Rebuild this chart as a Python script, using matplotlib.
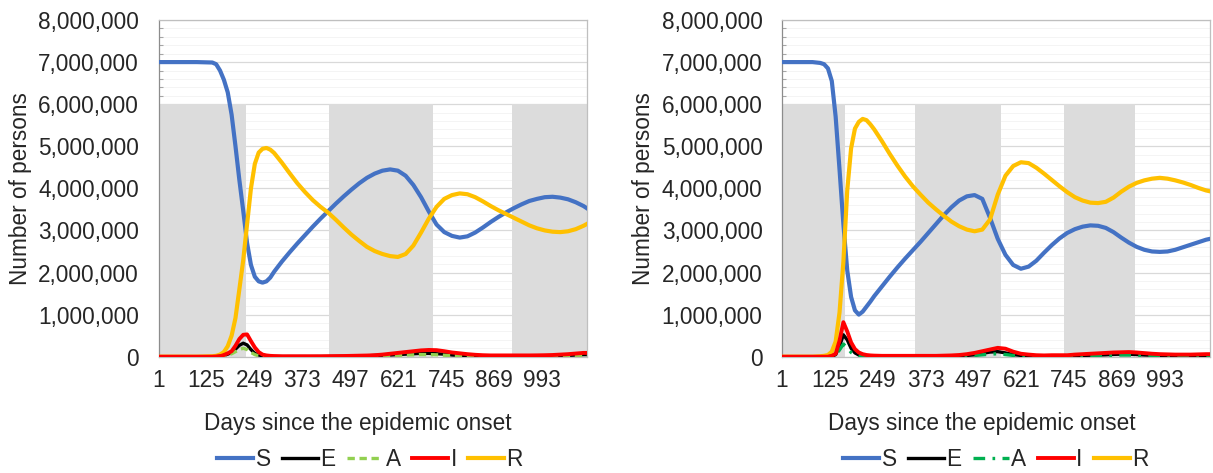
import matplotlib.pyplot as plt
import numpy as np
from matplotlib.ticker import FuncFormatter, MultipleLocator

plt.rcParams['font.family'] = ['Liberation Sans', 'DejaVu Sans']

# ---- scenario (a): days sampled, compartments in millions of persons ----
days_a = [1, 50, 100, 140, 150, 160, 170, 180, 190, 200, 210, 220, 230, 240,
          250, 260, 270, 280, 290, 300, 320, 340, 360, 380, 400, 420, 440,
          460, 480, 500, 520, 540, 560, 580, 600, 620, 640, 660, 680, 700,
          720, 740, 760, 780, 800, 820, 840, 860, 880, 900, 920, 940, 960,
          980, 1000, 1020, 1040, 1060, 1080, 1100, 1110]
S_a = [7.00, 7.00, 7.00, 6.99, 6.95, 6.80, 6.58, 6.28, 5.75, 5.00, 4.20, 3.47,
       2.70, 2.18, 1.90, 1.79, 1.76, 1.79, 1.88, 2.02, 2.26, 2.48, 2.69, 2.89,
       3.09, 3.28, 3.46, 3.64, 3.81, 3.97, 4.12, 4.25, 4.35, 4.42, 4.45, 4.42,
       4.30, 4.08, 3.79, 3.45, 3.14, 2.96, 2.87, 2.83, 2.86, 2.95, 3.07, 3.20,
       3.32, 3.43, 3.53, 3.62, 3.70, 3.75, 3.79, 3.80, 3.78, 3.74, 3.67, 3.58,
       3.52]
E_a = [0, 0, 0, 0, 0, 0.01, 0.03, 0.06, 0.10, 0.18, 0.27, 0.32, 0.28, 0.17,
       0.08, 0.04, 0.02, 0.01, 0.005, 0.004, 0.003, 0.003, 0.003, 0.003, 0.003,
       0.004, 0.005, 0.006, 0.008, 0.01, 0.015, 0.02, 0.03, 0.035, 0.04, 0.05,
       0.06, 0.07, 0.08, 0.08, 0.07, 0.06, 0.04, 0.03, 0.02, 0.015, 0.012, 0.01,
       0.01, 0.01, 0.012, 0.014, 0.016, 0.018, 0.02, 0.024, 0.028, 0.032, 0.04,
       0.05, 0.05]
A_a = [0, 0, 0, 0, 0, 0, 0.01, 0.04, 0.07, 0.12, 0.17, 0.20, 0.17, 0.10, 0.05,
       0.02, 0.01, 0.005, 0.003, 0.002, 0.002, 0.002, 0.002, 0.002, 0.002,
       0.003, 0.003, 0.004, 0.005, 0.006, 0.009, 0.012, 0.018, 0.022, 0.026,
       0.032, 0.04, 0.045, 0.05, 0.05, 0.045, 0.035, 0.025, 0.018, 0.012,
       0.009, 0.007, 0.006, 0.006, 0.006, 0.007, 0.008, 0.01, 0.011, 0.012,
       0.014, 0.017, 0.02, 0.025, 0.03, 0.03]
I_a = [0, 0, 0, 0, 0.005, 0.01, 0.04, 0.08, 0.13, 0.26, 0.42, 0.52, 0.53, 0.37,
       0.22, 0.11, 0.05, 0.03, 0.02, 0.015, 0.01, 0.01, 0.01, 0.01, 0.01, 0.01,
       0.012, 0.014, 0.016, 0.02, 0.024, 0.028, 0.035, 0.05, 0.07, 0.09, 0.11,
       0.13, 0.15, 0.16, 0.155, 0.13, 0.10, 0.08, 0.06, 0.045, 0.035, 0.03,
       0.03, 0.03, 0.03, 0.03, 0.03, 0.032, 0.035, 0.04, 0.05, 0.06, 0.075,
       0.09, 0.09]
R_a = [0, 0, 0, 0.01, 0.02, 0.05, 0.11, 0.25, 0.50, 0.92, 1.60, 2.29, 3.15,
       4.00, 4.58, 4.85, 4.94, 4.96, 4.92, 4.84, 4.61, 4.36, 4.12, 3.91, 3.72,
       3.56, 3.42, 3.25, 3.07, 2.90, 2.75, 2.61, 2.51, 2.44, 2.39, 2.37, 2.44,
       2.64, 2.95, 3.28, 3.56, 3.75, 3.84, 3.88, 3.86, 3.79, 3.69, 3.58, 3.48,
       3.39, 3.30, 3.21, 3.12, 3.05, 3.00, 2.97, 2.96, 2.98, 3.03, 3.11, 3.16]
shade_a = [(1, 226), (442, 712), (914, 1110)]

# ---- scenario (b) ----
days_b = [1, 50, 80, 100, 110, 120, 130, 140, 150, 160, 170, 180, 190, 200,
          210, 220, 230, 240, 260, 280, 300, 320, 340, 360, 380, 400, 420,
          440, 460, 480, 500, 520, 540, 560, 580, 600, 620, 640, 660, 680,
          700, 720, 740, 760, 780, 800, 820, 840, 860, 880, 900, 920, 940,
          960, 980, 1000, 1020, 1040, 1060, 1080, 1100, 1110]
S_b = [7.00, 7.00, 7.00, 6.98, 6.95, 6.85, 6.55, 5.70, 4.45, 3.15, 2.05, 1.42,
       1.10, 1.00, 1.07, 1.19, 1.31, 1.44, 1.67, 1.90, 2.12, 2.33, 2.53, 2.73,
       2.94, 3.15, 3.36, 3.55, 3.71, 3.81, 3.84, 3.75, 3.30, 2.80, 2.42, 2.18,
       2.09, 2.14, 2.28, 2.47, 2.65, 2.81, 2.94, 3.03, 3.09, 3.12, 3.11, 3.06,
       2.96, 2.83, 2.71, 2.61, 2.54, 2.50, 2.49, 2.50, 2.54, 2.60, 2.66, 2.72,
       2.78, 2.80]
E_b = [0, 0, 0, 0, 0, 0, 0.01, 0.05, 0.25, 0.52, 0.40, 0.20, 0.09, 0.04, 0.02,
       0.01, 0.008, 0.006, 0.005, 0.005, 0.005, 0.005, 0.006, 0.007, 0.008,
       0.01, 0.012, 0.015, 0.02, 0.03, 0.045, 0.08, 0.11, 0.12, 0.09, 0.05,
       0.03, 0.02, 0.015, 0.012, 0.012, 0.014, 0.018, 0.025, 0.03, 0.035,
       0.04, 0.045, 0.055, 0.06, 0.06, 0.05, 0.04, 0.035, 0.03, 0.03, 0.03,
       0.03, 0.03, 0.03, 0.03, 0.03]
A_b = [0, 0, 0, 0, 0, 0, 0.005, 0.04, 0.16, 0.30, 0.22, 0.10, 0.05, 0.02, 0.01,
       0.006, 0.004, 0.003, 0.003, 0.003, 0.003, 0.003, 0.003, 0.004, 0.005,
       0.006, 0.007, 0.009, 0.012, 0.018, 0.028, 0.045, 0.06, 0.07, 0.05,
       0.03, 0.018, 0.012, 0.009, 0.008, 0.008, 0.009, 0.011, 0.015, 0.018,
       0.021, 0.025, 0.028, 0.033, 0.04, 0.04, 0.033, 0.026, 0.022, 0.02,
       0.02, 0.02, 0.02, 0.02, 0.02, 0.02, 0.02]
I_b = [0, 0, 0, 0, 0, 0, 0.02, 0.07, 0.38, 0.82, 0.60, 0.34, 0.18, 0.10, 0.06,
       0.04, 0.03, 0.025, 0.02, 0.02, 0.02, 0.02, 0.02, 0.02, 0.02, 0.02,
       0.025, 0.03, 0.04, 0.06, 0.09, 0.13, 0.17, 0.21, 0.19, 0.12, 0.07,
       0.05, 0.035, 0.03, 0.035, 0.035, 0.035, 0.05, 0.06, 0.07, 0.08, 0.09,
       0.10, 0.105, 0.11, 0.10, 0.085, 0.07, 0.06, 0.055, 0.05, 0.05, 0.05,
       0.055, 0.06, 0.06]
R_b = [0, 0, 0, 0.01, 0.02, 0.04, 0.12, 0.36, 1.05, 2.25, 3.95, 4.95, 5.42,
       5.58, 5.65, 5.62, 5.52, 5.40, 5.12, 4.82, 4.54, 4.28, 4.05, 3.85, 3.66,
       3.50, 3.35, 3.21, 3.10, 3.02, 2.98, 3.02, 3.26, 3.85, 4.30, 4.53, 4.62,
       4.60, 4.49, 4.35, 4.20, 4.05, 3.91, 3.79, 3.71, 3.66, 3.65, 3.68, 3.78,
       3.92, 4.04, 4.13, 4.19, 4.23, 4.25, 4.23, 4.19, 4.14, 4.08, 4.01, 3.95,
       3.93]
shade_b = [(1, 165), (345, 568), (731, 915)]

tick_days = [1, 125, 249, 373, 497, 621, 745, 869, 993]
SHADE_TOP = 6_000_000
X_END = 1110

fig = plt.figure(figsize=(12.13, 4.73), dpi=100)
ax_a = fig.add_axes([0.1307, 0.2459, 0.3535, 0.7118])
ax_b = fig.add_axes([0.6447, 0.2459, 0.3528, 0.7118])

txt = '#262626'
fs = 16.3


def draw(ax, days, S, E, A, I, R, shade, a_color, a_dash, xlab_x, ylab_x, leg_x):
    d = np.array(days)
    for start, end in shade:
        ax.bar(start, SHADE_TOP, width=end - start, align='edge',
               color='#dcdcdc', linewidth=0, zorder=1)
    ax.plot(d, np.array(S) * 1e6, color='#4472C4', lw=3.0, label='S', zorder=3)
    ax.plot(d, np.array(E) * 1e6, color='black', lw=2.4, label='E', zorder=4)
    ax.plot(d, np.array(A) * 1e6, color=a_color, lw=2.4, label='A',
            dashes=a_dash, zorder=4)
    ax.plot(d, np.array(I) * 1e6, color='#FF0000', lw=2.8, label='I', zorder=5)
    ax.plot(d, np.array(R) * 1e6, color='#FFC000', lw=3.0, label='R', zorder=3)

    ax.set_xlim(1, X_END)
    ax.set_ylim(0, 8_000_000)
    ax.set_xticks(tick_days)
    ax.tick_params(axis='x', length=0, pad=9, labelsize=fs, labelcolor=txt)
    ax.yaxis.set_major_locator(MultipleLocator(1_000_000))
    ax.yaxis.set_minor_locator(MultipleLocator(200_000))
    ax.yaxis.set_major_formatter(FuncFormatter(lambda v, p: f'{v:,.0f}'))
    ax.tick_params(axis='y', which='major', length=0, pad=14, labelsize=fs,
                   labelcolor=txt)
    ax.tick_params(axis='y', which='minor', direction='in', length=3,
                   color='#a6a6a6', width=0.8)
    ax.grid(axis='y', which='major', color='#d9d9d9', lw=0.9, zorder=0)
    ax.grid(axis='y', which='minor', color='#f3f3f3', lw=0.6, zorder=0)
    ax.set_axisbelow(True)
    for sp in ax.spines.values():
        sp.set_color('#bfbfbf')
        sp.set_linewidth(0.9)
    ax.spines['left'].set_color('#8c8c8c')

    ax.set_ylabel('Number of persons', fontsize=fs, color=txt)
    ax.yaxis.set_label_coords(ylab_x, 0.5)
    ax.yaxis.label.set_va('center')
    ax.set_xlabel('Days since the epidemic onset', fontsize=fs, color=txt)
    ax.xaxis.set_label_coords(xlab_x, -0.197)
    ax.xaxis.label.set_va('center')

    fig.legend(*ax.get_legend_handles_labels(), loc='center',
               bbox_to_anchor=(leg_x, 0.028), ncol=5, frameon=False,
               fontsize=fs, handlelength=1.6, handletextpad=0.1,
               columnspacing=0.5, labelcolor=txt)


draw(ax_a, days_a, S_a, E_a, A_a, I_a, R_a, shade_a, '#92D050', (2.2, 1.4),
     (358 - 158.5) / 428.8, (20 - 158.5) / 428.8, 0.305)
draw(ax_b, days_b, S_b, E_b, A_b, I_b, R_b, shade_b, '#00B050', (3.5, 2.2, 0.8, 2.2),
     (982 - 782) / 428.0, (643 - 782) / 428.0, 0.821)

fig.savefig('out.png', dpi=100, facecolor='white')
